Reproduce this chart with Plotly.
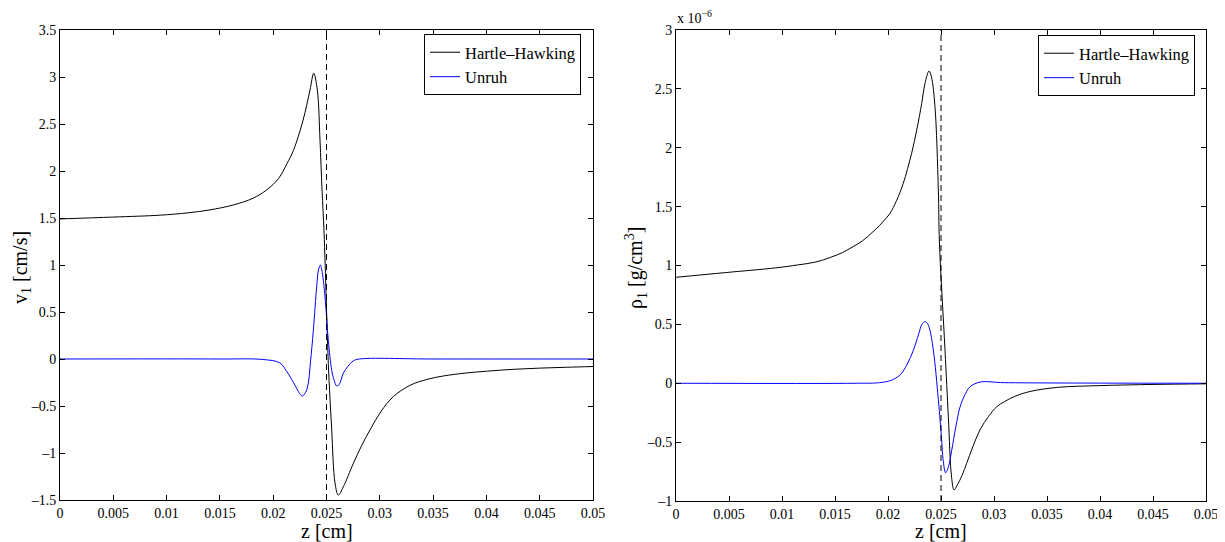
import plotly.graph_objects as go

# ---------------- data ----------------
# Left panel: v1 [cm/s] vs z [cm]
v_hh_z = [0.0, 0.005, 0.0094, 0.012, 0.014, 0.0163, 0.0181, 0.0194, 0.0205, 0.0213, 0.0219,
          0.0228, 0.02345, 0.0238, 0.02414, 0.02439, 0.02458, 0.02477, 0.02497, 0.02517,
          0.02549, 0.0258, 0.02611, 0.02658, 0.02752, 0.0283, 0.02908, 0.0301, 0.03127,
          0.03283, 0.0345, 0.036, 0.038, 0.04, 0.0425, 0.045, 0.0475, 0.05]
v_hh = [1.49, 1.51, 1.53, 1.555, 1.585, 1.64, 1.71, 1.80, 1.92, 2.08, 2.22,
        2.54, 2.86, 3.04, 2.86, 2.33, 1.80, 1.35, 0.65, -0.05,
        -0.755, -1.32, -1.447, -1.36, -1.11, -0.92, -0.755, -0.56, -0.40,
        -0.28, -0.215, -0.18, -0.15, -0.13, -0.11, -0.097, -0.088, -0.08]

v_un_z = [0.0, 0.015, 0.019, 0.0206, 0.0212, 0.0219, 0.0225, 0.02273, 0.0231, 0.0233,
          0.0235, 0.02377, 0.02408, 0.02425, 0.02442, 0.0246, 0.02486, 0.02517, 0.02549,
          0.0257, 0.02596, 0.0262, 0.02658, 0.027, 0.02752, 0.0281, 0.035, 0.05]
v_un = [0.0, 0.0, -0.005, -0.04, -0.12, -0.25, -0.37, -0.394, -0.34, -0.25,
        -0.03, 0.31, 0.77, 0.95, 1.0, 0.92, 0.66, 0.20, -0.12,
        -0.22, -0.287, -0.27, -0.15, -0.08, -0.02, 0.0, 0.0, 0.0]

# Right panel: rho1 [1e-6 g/cm^3] vs z [cm]
r_hh_z = [0.0, 0.0047, 0.0094, 0.0115, 0.0132, 0.0146, 0.0157, 0.0167, 0.0176, 0.0185,
          0.0192, 0.0198, 0.02019, 0.0208, 0.02144, 0.02223, 0.02271, 0.02318, 0.02349,
          0.02387, 0.0241, 0.02443, 0.02475, 0.02485, 0.02538, 0.02569, 0.026, 0.02623,
          0.0265, 0.027, 0.02742, 0.028, 0.02868, 0.0295, 0.03025, 0.031, 0.032, 0.0334,
          0.036, 0.04, 0.045, 0.05]
r_hh = [0.90, 0.94, 0.98, 1.005, 1.03, 1.07, 1.11, 1.16, 1.21, 1.28,
        1.34, 1.40, 1.443, 1.55, 1.698, 1.953, 2.151, 2.377, 2.547,
        2.652, 2.60, 2.35, 1.64, 1.20, 0.28, -0.28, -0.80, -0.906,
        -0.87, -0.78, -0.68, -0.54, -0.395, -0.28, -0.20, -0.155, -0.11, -0.07,
        -0.035, -0.02, -0.01, -0.005]

r_un_z = [0.0, 0.017, 0.0192, 0.0203, 0.02113, 0.0218, 0.02239, 0.0229, 0.0232, 0.02349,
          0.0237, 0.0239, 0.02428, 0.02475, 0.02506, 0.0252, 0.02544, 0.0257, 0.02601,
          0.0264, 0.0268, 0.0273, 0.02774, 0.02868, 0.031, 0.05]
r_un = [0.0, 0.0, 0.005, 0.025, 0.07, 0.16, 0.28, 0.42, 0.50, 0.524,
        0.51, 0.47, 0.28, -0.14, -0.48, -0.65, -0.76, -0.71, -0.57,
        -0.37, -0.20, -0.09, -0.03, 0.01, 0.005, 0.0]

horizon_z = 0.025
v_range = [-1.5, 3.5]
r_range = [-1.0, 3.0]

x_ticks = [0, 0.005, 0.01, 0.015, 0.02, 0.025, 0.03, 0.035, 0.04, 0.045, 0.05]
x_ticktext = ["0", "0.005", "0.01", "0.015", "0.02", "0.025", "0.03", "0.035", "0.04", "0.045", "0.05"]
v_ticks = [-1.5, -1, -0.5, 0, 0.5, 1, 1.5, 2, 2.5, 3, 3.5]
v_ticktext = ["\u20131.5", "\u20131", "\u20130.5", "0", "0.5", "1", "1.5", "2", "2.5", "3", "3.5"]
r_ticks = [-1, -0.5, 0, 0.5, 1, 1.5, 2, 2.5, 3]
r_ticktext = ["\u20131", "\u20130.5", "0", "0.5", "1", "1.5", "2", "2.5", "3"]

names = ["Hartle\u2013Hawking", "Unruh"]
# ---------------------------------------------------------------

# The page body has an 8px margin, so the figure is drawn 8px smaller and all
# page-pixel positions below are converted by subtracting that offset.
OFF = 8
W, H = 1225 - OFF, 542 - OFF


def fx(p):
    return (p - OFF) / W


def fy(p):
    return 1 - (p - OFF) / H


FONT = "Liberation Serif, Times New Roman, serif"
BLACK = "#000000"
BLUE = "#0000ff"

fig = go.Figure()
sm = 1.0
fig.add_trace(go.Scatter(x=v_hh_z, y=v_hh, mode="lines", name=names[0],
                         line=dict(color=BLACK, width=1, shape="spline", smoothing=sm),
                         xaxis="x", yaxis="y", legend="legend"))
fig.add_trace(go.Scatter(x=v_un_z, y=v_un, mode="lines", name=names[1],
                         line=dict(color=BLUE, width=1, shape="spline", smoothing=sm),
                         xaxis="x", yaxis="y", legend="legend"))
fig.add_trace(go.Scatter(x=[horizon_z, horizon_z], y=v_range, mode="lines", showlegend=False,
                         line=dict(color=BLACK, width=1, dash="6px,4px"),
                         xaxis="x", yaxis="y"))

fig.add_trace(go.Scatter(x=r_hh_z, y=r_hh, mode="lines", name=names[0],
                         line=dict(color=BLACK, width=1, shape="spline", smoothing=sm),
                         xaxis="x2", yaxis="y2", legend="legend2"))
fig.add_trace(go.Scatter(x=r_un_z, y=r_un, mode="lines", name=names[1],
                         line=dict(color=BLUE, width=1, shape="spline", smoothing=sm),
                         xaxis="x2", yaxis="y2", legend="legend2"))
fig.add_trace(go.Scatter(x=[horizon_z, horizon_z], y=r_range, mode="lines", showlegend=False,
                         line=dict(color=BLACK, width=1, dash="6px,4px"),
                         xaxis="x2", yaxis="y2"))

L1, R1 = 60, 593
L2, R2 = 676, 1206
T, B = 30, 500

axis_common = dict(showgrid=False, zeroline=False, showline=True, linecolor=BLACK,
                   linewidth=1, mirror="ticks", ticks="inside", ticklen=5,
                   tickcolor=BLACK, tickwidth=1, automargin=False,
                   tickfont=dict(family=FONT, size=14, color=BLACK))

legend_common = dict(font=dict(family=FONT, size=16.5, color=BLACK), bgcolor="white",
                     bordercolor=BLACK, borderwidth=1, xanchor="left", yanchor="top",
                     tracegroupgap=0, itemwidth=30)

fig.update_layout(
    template="none",
    width=W, height=H,
    margin=dict(l=0, r=0, t=0, b=0, pad=0),
    paper_bgcolor="white", plot_bgcolor="white",
    font=dict(family=FONT, color=BLACK),
    xaxis=dict(domain=[fx(L1), fx(R1)], range=[0, 0.05], tickvals=x_ticks,
               ticktext=x_ticktext, anchor="y", **axis_common),
    yaxis=dict(domain=[fy(B), fy(T)], range=v_range, tickvals=v_ticks,
               ticktext=v_ticktext, anchor="x", **axis_common),
    xaxis2=dict(domain=[fx(L2), fx(R2)], range=[0, 0.05], tickvals=x_ticks,
                ticktext=x_ticktext, anchor="y2", **axis_common),
    yaxis2=dict(domain=[fy(B + 1), fy(T)], range=r_range, tickvals=r_ticks,
                ticktext=r_ticktext, anchor="x2", **axis_common),
    legend=dict(x=fx(424), y=fy(34), **legend_common),
    legend2=dict(x=fx(1038), y=fy(35), **legend_common),
    showlegend=True,
)

lab_font = dict(family=FONT, size=20, color=BLACK)
fig.add_annotation(text="z [cm]", x=fx((L1 + R1) / 2), y=fy(531), xref="paper", yref="paper",
                   showarrow=False, font=lab_font, xanchor="center", yanchor="middle")
fig.add_annotation(text="z [cm]", x=fx((L2 + R2) / 2), y=fy(531), xref="paper", yref="paper",
                   showarrow=False, font=lab_font, xanchor="center", yanchor="middle")
fig.add_annotation(text="v<sub>1</sub> [cm/s]", x=fx(21), y=fy(268), xref="paper", yref="paper",
                   showarrow=False, font=lab_font, textangle=-90, xanchor="center", yanchor="middle")
fig.add_annotation(text="\u03c1<sub>1</sub> [g/cm<sup>3</sup>]", x=fx(636), y=fy(268),
                   xref="paper", yref="paper", showarrow=False, font=lab_font, textangle=-90,
                   xanchor="center", yanchor="middle")
fig.add_annotation(text="x 10<sup>\u22126</sup>", x=fx(675), y=fy(28), xref="paper", yref="paper",
                   showarrow=False, font=dict(family=FONT, size=14, color=BLACK),
                   xanchor="left", yanchor="bottom")

fig.write_html("out.html")
